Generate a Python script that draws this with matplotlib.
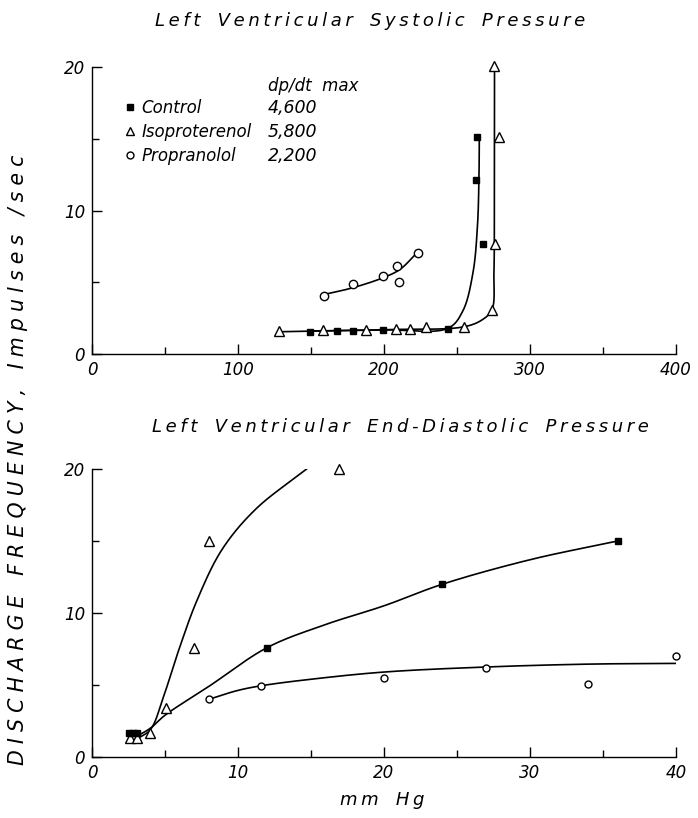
import numpy as np
import matplotlib.pyplot as plt
from matplotlib.ticker import MultipleLocator
from matplotlib.lines import Line2D

plt.rcParams['font.family'] = ['DejaVu Sans']
plt.rcParams['font.style'] = 'italic'

# --- systolic pressure panel ---
sys_ctrl_x = [149, 168, 179, 199, 244, 264, 263, 268]
sys_ctrl_y = [1.55, 1.6, 1.6, 1.65, 1.75, 15.1, 12.1, 7.7]
sys_iso_x = [128, 158, 188, 208, 218, 229, 255, 274, 276, 279, 275]
sys_iso_y = [1.6, 1.65, 1.7, 1.75, 1.75, 1.85, 1.9, 3.1, 7.7, 15.1, 20.1]
sys_prop_x = [159, 179, 199, 209, 210, 223]
sys_prop_y = [4.05, 4.9, 5.45, 6.15, 5.0, 7.05]

# hand-fitted curves (knots)
sys_ctrl_fit_x = [149, 200, 244, 254, 261, 264, 265, 265.3]
sys_ctrl_fit_y = [1.6, 1.68, 1.8, 3.0, 5.7, 8.9, 12.0, 15.2]
sys_iso_fit_x = [128, 200, 255, 267.5, 274, 275.3, 275.6, 275.7]
sys_iso_fit_y = [1.55, 1.7, 1.9, 2.4, 3.1, 5.7, 10.0, 20.0]
sys_prop_fit_x = [159, 178, 199, 211, 223]
sys_prop_fit_y = [4.15, 4.6, 5.3, 5.9, 7.1]

# --- end-diastolic pressure panel ---
dia_ctrl_x = [2.5, 2.8, 3.1, 12.0, 24.0, 36.0]
dia_ctrl_y = [1.65, 1.65, 1.65, 7.6, 12.0, 15.0]
dia_iso_x = [2.6, 3.1, 4.0, 5.1, 7.0, 8.0, 16.9]
dia_iso_y = [1.3, 1.3, 1.7, 3.4, 7.6, 15.0, 20.0]
dia_prop_x = [8.0, 11.6, 20.0, 27.0, 34.0, 40.0]
dia_prop_y = [4.0, 4.95, 5.5, 6.2, 5.1, 7.0]

dia_ctrl_fit_x = [3.0, 4.0, 5.0, 8.0, 12.0, 16.0, 20.0, 24.0, 30.0, 36.0]
dia_ctrl_fit_y = [1.4, 2.0, 2.9, 4.9, 7.6, 9.2, 10.5, 12.0, 13.7, 15.0]
dia_iso_fit_x = [3.0, 4.0, 4.9, 6.0, 7.2, 8.9, 11.2, 14.7]
dia_iso_fit_y = [1.2, 1.9, 4.2, 7.6, 10.9, 14.4, 17.2, 20.0]
dia_prop_fit_x = [8.0, 9.9, 11.6, 15.0, 20.0, 27.0, 34.0, 40.0]
dia_prop_fit_y = [4.0, 4.6, 4.95, 5.4, 5.9, 6.25, 6.45, 6.5]

names = ['Control', 'Isoproterenol', 'Propranolol']
dpdt = ['4,600', '5,800', '2,200']


def spaced(s, gap='\u2009', word='   '):
    return word.join(gap.join(w) for w in s.split(' '))


def smooth(xs, ys, sx, sy, n=40):
    # centripetal Catmull-Rom through the knots, in pixel-like units
    P = np.column_stack([np.asarray(xs, float) / sx, np.asarray(ys, float) / sy])
    P = np.vstack([2 * P[0] - P[1], P, 2 * P[-1] - P[-2]])
    out = []
    for i in range(1, len(P) - 2):
        p0, p1, p2, p3 = P[i - 1:i + 3]
        t0 = 0.0
        t1 = t0 + np.linalg.norm(p1 - p0) ** 0.5
        t2 = t1 + np.linalg.norm(p2 - p1) ** 0.5
        t3 = t2 + np.linalg.norm(p3 - p2) ** 0.5
        t = np.linspace(t1, t2, n)[:, None]
        a1 = (t1 - t) / (t1 - t0) * p0 + (t - t0) / (t1 - t0) * p1
        a2 = (t2 - t) / (t2 - t1) * p1 + (t - t1) / (t2 - t1) * p2
        a3 = (t3 - t) / (t3 - t2) * p2 + (t - t2) / (t3 - t2) * p3
        b1 = (t2 - t) / (t2 - t0) * a1 + (t - t0) / (t2 - t0) * a2
        b2 = (t3 - t) / (t3 - t1) * a2 + (t - t1) / (t3 - t1) * a3
        out.append((t2 - t) / (t2 - t1) * b1 + (t - t1) / (t2 - t1) * b2)
    C = np.vstack(out)
    return C[:, 0] * sx, C[:, 1] * sy


W, H = 698, 818
fig = plt.figure(figsize=(W / 100, H / 100), dpi=100)
ax1 = fig.add_axes([92 / W, 1 - 354 / H, 584 / W, 287 / H])
ax2 = fig.add_axes([92 / W, 1 - 757 / H, 584 / W, 288 / H])

lw = 1.2
sq = dict(marker='s', ms=5, mfc='black', mec='black', ls='none')
tri = dict(marker='^', ms=6.5, mfc='white', mec='black', mew=1.0, ls='none')
circ = dict(marker='o', ms=6, mfc='white', mec='black', mew=1.0, ls='none')

for ax, xmax, major, minor in [(ax1, 400, 100, 50), (ax2, 40, 10, 5)]:
    ax.set_xlim(0, xmax)
    ax.set_ylim(0, 20)
    for s in ['top', 'right']:
        ax.spines[s].set_visible(False)
    ax.spines['left'].set_linewidth(1.0)
    ax.spines['bottom'].set_linewidth(1.0)
    ax.xaxis.set_major_locator(MultipleLocator(major))
    ax.xaxis.set_minor_locator(MultipleLocator(minor))
    ax.yaxis.set_major_locator(MultipleLocator(10))
    ax.yaxis.set_minor_locator(MultipleLocator(5))
    ax.tick_params(which='major', direction='in', length=7, width=1.0,
                   labelsize=12, pad=5)
    ax.tick_params(which='minor', direction='in', length=5, width=1.0)

sx1, sy1 = 400 / 584, 20 / 287
sx2, sy2 = 40 / 584, 20 / 288

# systolic panel
ax1.plot(*smooth(sys_iso_fit_x, sys_iso_fit_y, sx1, sy1), color='black', lw=lw)
ax1.plot(*smooth(sys_ctrl_fit_x, sys_ctrl_fit_y, sx1, sy1), color='black', lw=lw)
ax1.plot(*smooth(sys_prop_fit_x, sys_prop_fit_y, sx1, sy1), color='black', lw=lw)
ax1.plot(sys_iso_x, sys_iso_y, clip_on=False, **tri)
ax1.plot(sys_ctrl_x, sys_ctrl_y, clip_on=False, **sq)
ax1.plot(sys_prop_x, sys_prop_y, clip_on=False, **circ)

handles = [Line2D([], [], **dict(sq, ms=4.5)),
           Line2D([], [], **dict(tri, ms=5.5)),
           Line2D([], [], **dict(circ, ms=5))]
leg = ax1.legend(handles, names, loc='upper left', bbox_to_anchor=(0.053, 0.888),
                 frameon=False, fontsize=12, handlelength=0.8, handletextpad=0.3,
                 labelspacing=0.36, borderpad=0, borderaxespad=0)
ax1.text(120.5, 18.7, 'dp/dt  max', fontsize=12, va='center', ha='left')
for i, v in enumerate(dpdt):
    ax1.text(120.5, 17.15 - i * 1.68, v, fontsize=12.5, va='center', ha='left')

# end-diastolic panel
ax2.plot(*smooth(dia_iso_fit_x, dia_iso_fit_y, sx2, sy2), color='black', lw=lw)
ax2.plot(*smooth(dia_ctrl_fit_x, dia_ctrl_fit_y, sx2, sy2), color='black', lw=lw)
ax2.plot(*smooth(dia_prop_fit_x, dia_prop_fit_y, sx2, sy2), color='black', lw=lw)
ax2.plot(dia_iso_x, dia_iso_y, clip_on=False, **tri)
ax2.plot(dia_ctrl_x, dia_ctrl_y, clip_on=False, **sq)
ax2.plot(dia_prop_x, dia_prop_y, clip_on=False, **dict(circ, ms=5))

fig.text(370 / W, 1 - 21 / H, spaced('Left Ventricular Systolic Pressure'),
         fontsize=13, ha='center', va='center')
fig.text(400 / W, 1 - 427 / H, spaced('Left Ventricular End-Diastolic Pressure'),
         fontsize=13, ha='center', va='center')
fig.text(18 / W, 1 - 460 / H,
         spaced('DISCHARGE FREQUENCY, Impulses /sec', '\u2009\u200a', '   '),
         fontsize=14.8, rotation=90, ha='center', va='center')
fig.text(382 / W, 1 - 800 / H, spaced('mm Hg'), fontsize=13,
         ha='center', va='center')

fig.savefig('out.png', dpi=100)
